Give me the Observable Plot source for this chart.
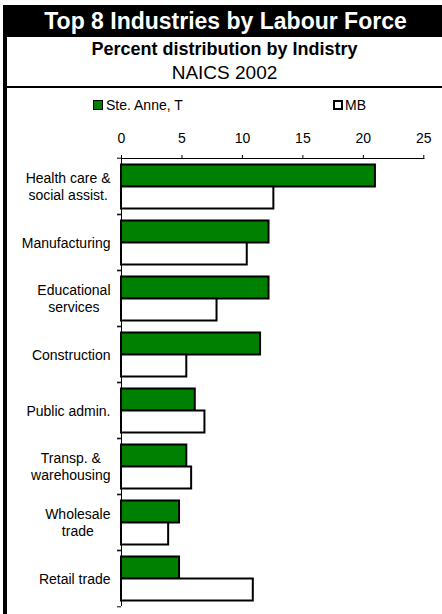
<!DOCTYPE html>
<html><head><meta charset="utf-8">
<script src="https://cdn.jsdelivr.net/npm/d3@7"></script>
<script src="https://cdn.jsdelivr.net/npm/@observablehq/plot@0.6"></script>
<style>
body{margin:0;background:#fff;font-family:"Liberation Sans",Arial,sans-serif;color:#000;}
#wrap{position:relative;width:442px;height:614px;overflow:hidden;}
#border{position:absolute;left:3px;top:5px;width:4px;bottom:0;background:#000;}
#title{position:absolute;left:3px;right:0;top:5px;height:32px;background:#000;color:#fff;font-weight:bold;font-size:23px;line-height:32px;text-align:center;padding-left:6px;}
.sub{position:absolute;left:7px;right:0;text-align:center;}
#sub1{top:39px;font-weight:bold;font-size:18px;line-height:20px;}
#sub2{top:61.5px;font-size:19px;line-height:22px;}
#sep{position:absolute;left:3px;right:0;top:86px;height:2px;background:#000;}
.sw{position:absolute;width:8px;height:8px;border:1px solid #000;}
.lt{position:absolute;font-size:14px;line-height:16px;}
#chart{position:absolute;left:0;top:115px;}
</style></head>
<body><div id="wrap">
<div id="title">Top 8 Industries by Labour Force</div>
<div id="sub1" class="sub">Percent distribution by Indistry</div>
<div id="sub2" class="sub">NAICS 2002</div>
<div id="sep"></div>
<div id="border"></div>
<div id="legend"></div>
<div id="chart"></div>
</div>
<script>
const industries = ["Health care &\nsocial assist.", "Manufacturing", "Educational\nservices", "Construction", "Public admin.", "Transp. &\nwarehousing", "Wholesale\ntrade", "Retail trade"];
const series = ["Ste. Anne, T", "MB"];
const steAnne = [21.0, 12.2, 12.2, 11.5, 6.1, 5.4, 4.8, 4.8];
const mb = [12.6, 10.4, 7.9, 5.4, 6.9, 5.8, 3.9, 10.9];
const xTicks = [0, 5, 10, 15, 20, 25];
const colors = ["#008000", "#ffffff"];

const data = industries.flatMap((ind, i) => [
  {industry: ind, series: series[0], value: steAnne[i]},
  {industry: ind, series: series[1], value: mb[i]}
]);

// legend
const legend = document.getElementById("legend");
const legendPos = [{sw: 93, tx: 106, bw: 1}, {sw: 333, tx: 345, bw: 2}];
series.forEach((s, i) => {
  const p = legendPos[i];
  const sw = document.createElement("div");
  sw.className = "sw";
  sw.style.left = p.sw + "px"; sw.style.top = "100px";
  sw.style.background = colors[i];
  sw.style.borderWidth = p.bw + "px";
  sw.style.width = (10 - 2*p.bw) + "px"; sw.style.height = (10 - 2*p.bw) + "px";
  legend.appendChild(sw);
  const t = document.createElement("div");
  t.className = "lt"; t.textContent = s;
  t.style.left = p.tx + "px"; t.style.top = "97px";
  legend.appendChild(t);
});

const W = 442, H = 499, mT = 40.5, mB = 5.7, mL = 121, mR = 18.7;
const half = (H - mT - mB) / industries.length / 2;

const chart = Plot.plot({
  width: W, height: H,
  marginTop: mT, marginBottom: mB, marginLeft: mL, marginRight: mR,
  style: {fontFamily: "Liberation Sans, Arial, sans-serif", fontSize: "14px", color: "#000", background: "transparent"},
  x: {domain: [0, 25]},
  y: {domain: series, paddingInner: 0, paddingOuter: 0.23, axis: null},
  fy: {domain: industries, padding: 0},
  color: {domain: series, range: colors},
  marks: [
    Plot.ruleX([0], {stroke: "#000", strokeWidth: 1}),
    Plot.barX(data, {fy: "industry", y: "series", x: "value", fill: "series", stroke: "#000", strokeWidth: 2}),
    Plot.frame({anchor: "top", facetAnchor: "top", stroke: "#000", strokeWidth: 1}),
    Plot.axisX({anchor: "top", ticks: xTicks, tickSize: 4, tickPadding: 12, label: null, fontSize: 14}),
    Plot.axisFy({anchor: "left", tickSize: 4, tickFormat: () => "", dy: half, label: null}),
    Plot.axisFy({anchor: "left", tickSize: 4, tickFormat: () => "", dy: -half, label: null}),
    Plot.axisFy({anchor: "left", tickSize: 0, tickPadding: 11, label: null, lineHeight: 1.2, fontSize: 14})
  ]
});
document.getElementById("chart").appendChild(chart);

// center lines of multi-line category labels within their right-aligned block
d3.select(chart).selectAll("text").each(function() {
  const tspans = this.querySelectorAll("tspan");
  if (tspans.length > 1) {
    let w = 0;
    tspans.forEach(t => { w = Math.max(w, t.getComputedTextLength()); });
    this.setAttribute("text-anchor", "middle");
    tspans.forEach(t => t.setAttribute("x", -w / 2));
  }
});
</script>
</body></html>
